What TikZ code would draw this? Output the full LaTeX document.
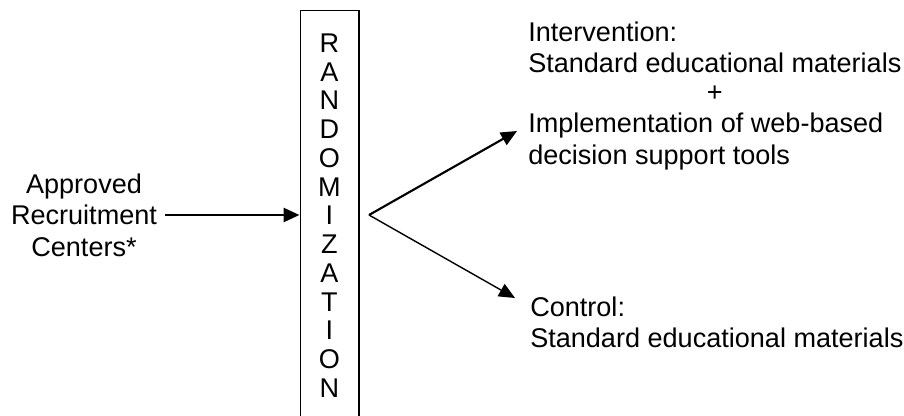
\documentclass[tikz,border=0pt]{standalone}
\usepackage{fontspec}
\setmainfont{Liberation Sans}
\usetikzlibrary{arrows.meta}
\begin{document}
\begin{tikzpicture}[x=0.75pt,y=-0.75pt,
  txt/.style={font=\fontsize{20.3}{23.7}\selectfont, inner sep=0pt},
  tip/.style={-{Triangle[length=12pt,width=10.5pt]}},
  in arrow/.style={tip, line width=2pt},
  up arrow/.style={tip, line width=1.6pt},
  lo arrow/.style={tip, line width=1.05pt},
  boxstyle/.style={draw, line width=1pt, minimum width=44pt, minimum height=330pt, inner sep=0pt, anchor=north}
]
\useasboundingbox (0,0) rectangle (904,416);
\clip (0,0) rectangle (904,416);
% randomization box
\node[boxstyle] (rand) at (329.5,10) {};
\node[txt, align=center, font=\fontsize{20.3}{21.56}\selectfont] (letters) at (329.5,215.5)
  {R\\A\\N\\D\\O\\M\\I\\Z\\A\\T\\I\\O\\N};
% source
\node[txt, align=center] (src) at (84,215) {Approved\\Recruitment\\Centers*};
\coordinate (inend) at (rand.west |- src);
\draw[in arrow] ([xshift=6pt]src.east) -- (inend);
% branches
\coordinate (split) at (369,215);
\coordinate (uptip) at (517,131);
\coordinate (lotip) at (515,298);
\draw[up arrow] (split) -- (uptip);
\draw[lo arrow] (split) -- (lotip);
% intervention text
\node[txt, anchor=west] (int1) at (528,32) {Intervention:};
\node[txt, anchor=west] (int2) at (528,63) {Standard educational materials};
\node[txt] (plus) at (int2.center |- 0,94) {+};
\node[txt, anchor=west] (int3) at (528,126) {Implementation of web-based};
\node[txt, anchor=west] (int4) at (528,158) {decision support tools};
% control text
\node[txt, anchor=west] (ctl1) at (530,307) {Control:};
\node[txt, anchor=west] (ctl2) at (530,338) {Standard educational materials};
\end{tikzpicture}
\end{document}
